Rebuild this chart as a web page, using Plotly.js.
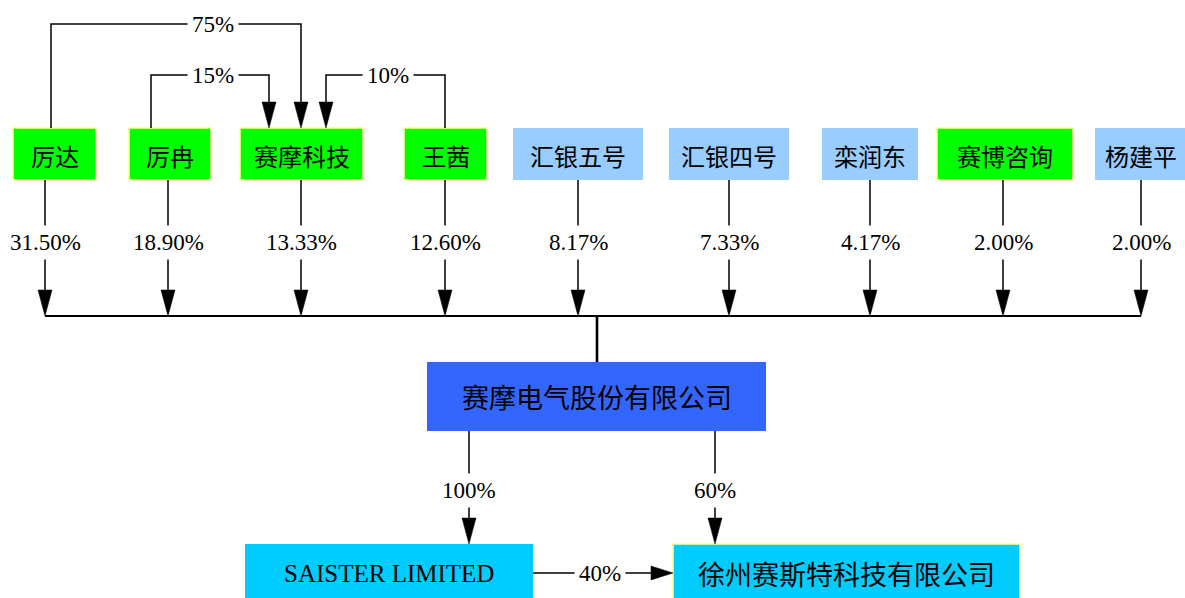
<!DOCTYPE html>
<html>
<head>
<meta charset="utf-8">
<script src="https://cdn.plot.ly/plotly-3.0.1.min.js"></script>
<style>html,body{margin:0;padding:0;background:#fff;}#chart{width:1185px;height:598px;}</style>
</head>
<body>
<div id="chart"></div>
<script>
// ---- data ----
const shareholders = ['厉达','厉冉','赛摩科技','王茜','汇银五号','汇银四号','栾润东','赛博咨询','杨建平'];
const stakes = ['31.50%','18.90%','13.33%','12.60%','8.17%','7.33%','4.17%','2.00%','2.00%'];
const holderKind = ['green','green','green','green','blue','blue','blue','green','blue'];
const crossFrom = ['厉达','厉冉','王茜'];
const crossTo = ['赛摩科技','赛摩科技','赛摩科技'];
const crossPct = ['75%','15%','10%'];
const company = '赛摩电气股份有限公司';
const subsidiaries = ['SAISTER LIMITED','徐州赛斯特科技有限公司'];
const subPct = ['100%','60%'];
const interPct = '40%';

// ---- layout (pixel geometry, separate from data) ----
const boxX0 = [13,129,240,404,513,669,822,937,1095];
const boxX1 = [96,211,363,487,643,789,918,1073,1187];
const dropX = [45,168,301,445,578,729,870,1003,1141];
const rowTop = 128, rowBot = 180;
const labelY = 242, busY = 316;
const crossUpX = [51,151,445];
const crossDownX = [301,269,326];
const crossLevel = [24,75,75];
const crossLabelX = [213,213,388];
const mainBox = [427,362,766,431];
const mainTopX = 597;
const subBoxes = [[245,544,533,604],[673,544,1020,604]];
const subDropX = [469,715];
const subLabelY = 490;
const interY = 573, interLabelX = 600;
const arrowLen = 26, arrowHalf = 7;

const colors = {green:'#00FF00', blue:'#99CCFF', main:'#3366FF', sub:'#00CCFF', edge:'#FFFF99'};
const numFont = {family:'Liberation Serif, Times New Roman, serif', size:23, color:'#000'};
const cjkFont = {family:'Noto Sans CJK SC, sans-serif', size:24, color:'#000'};

const shapes = [];
const annotations = [];

function line(x0,y0,x1,y1,w){shapes.push({type:'line',xref:'x',yref:'y',x0,y0,x1,y1,line:{color:'#000',width:w||1.5}});}
function arrowDown(x,tipY){shapes.push({type:'path',xref:'x',yref:'y',path:`M${x-arrowHalf},${tipY-arrowLen} L${x+arrowHalf},${tipY-arrowLen} L${x},${tipY} Z`,fillcolor:'#000',line:{color:'#000',width:0.5}});}
function arrowRight(tipX,y){shapes.push({type:'path',xref:'x',yref:'y',path:`M${tipX-arrowLen+4},${y-arrowHalf} L${tipX-arrowLen+4},${y+arrowHalf} L${tipX},${y} Z`,fillcolor:'#000',line:{color:'#000',width:0.5}});}
function box(x0,y0,x1,y1,fill,edge){shapes.push({type:'rect',xref:'x',yref:'y',x0,y0,x1,y1,fillcolor:fill,line:{color:edge||fill,width:edge?1.5:0}});}
function label(x,y,text,font){annotations.push({x,y,xref:'x',yref:'y',text,showarrow:false,font,bgcolor:'#fff',borderpad:4,xanchor:'center',yanchor:'middle'});}
function boxText(x,y,text,font){annotations.push({x,y,xref:'x',yref:'y',text,showarrow:false,font,xanchor:'center',yanchor:'middle'});}

// shareholder boxes, drops and labels
shareholders.forEach((name,i)=>{
  const isGreen = holderKind[i]==='green';
  box(boxX0[i],rowTop,boxX1[i],rowBot,colors[holderKind[i]],isGreen?colors.edge:null);
  boxText((boxX0[i]+boxX1[i])/2,(rowTop+rowBot)/2+1,name,cjkFont);
  line(dropX[i],rowBot,dropX[i],busY-arrowLen+2);
  arrowDown(dropX[i],busY);
  label(dropX[i],labelY,stakes[i],numFont);
});
// bus and trunk
line(dropX[0],busY,dropX[dropX.length-1],busY,2.2);
line(mainTopX,busY,mainTopX,mainBox[1],2.6);

// cross holdings into 赛摩科技
crossFrom.forEach((src,k)=>{
  shapes.push({type:'path',xref:'x',yref:'y',path:`M${crossUpX[k]},${rowTop} L${crossUpX[k]},${crossLevel[k]} L${crossDownX[k]},${crossLevel[k]} L${crossDownX[k]},${rowTop-arrowLen+2}`,line:{color:'#000',width:1.5}});
  arrowDown(crossDownX[k],rowTop);
  label(crossLabelX[k],crossLevel[k],crossPct[k],numFont);
});

// main company
box(mainBox[0],mainBox[1],mainBox[2],mainBox[3],colors.main);
boxText((mainBox[0]+mainBox[2])/2,(mainBox[1]+mainBox[3])/2,company,Object.assign({},cjkFont,{size:27}));

// subsidiaries
subsidiaries.forEach((name,j)=>{
  const b = subBoxes[j];
  box(b[0],b[1],b[2],b[3],colors.sub,j===1?colors.edge:null);
  const f = j===0 ? {family:'Liberation Serif, serif',size:25,color:'#000'} : Object.assign({},cjkFont,{size:27});
  boxText((b[0]+b[2])/2,interY,name,f);
  line(subDropX[j],mainBox[3],subDropX[j],b[1]-arrowLen+2);
  arrowDown(subDropX[j],b[1]);
  label(subDropX[j],subLabelY,subPct[j],numFont);
});
// SAISTER -> 徐州
line(subBoxes[0][2],interY,subBoxes[1][0]-arrowLen+6,interY);
arrowRight(subBoxes[1][0],interY);
label(interLabelX,interY,interPct,numFont);

const layout = {
  width:1185,height:598,
  margin:{l:0,r:0,t:0,b:0},
  paper_bgcolor:'#fff',plot_bgcolor:'#fff',
  xaxis:{range:[0,1185],visible:false,fixedrange:true},
  yaxis:{range:[598,0],visible:false,fixedrange:true},
  showlegend:false,
  shapes,annotations
};
Plotly.newPlot('chart',[{x:[],y:[],type:'scatter',mode:'markers',hoverinfo:'skip'}],layout,{staticPlot:true,displayModeBar:false});
</script>
</body>
</html>
